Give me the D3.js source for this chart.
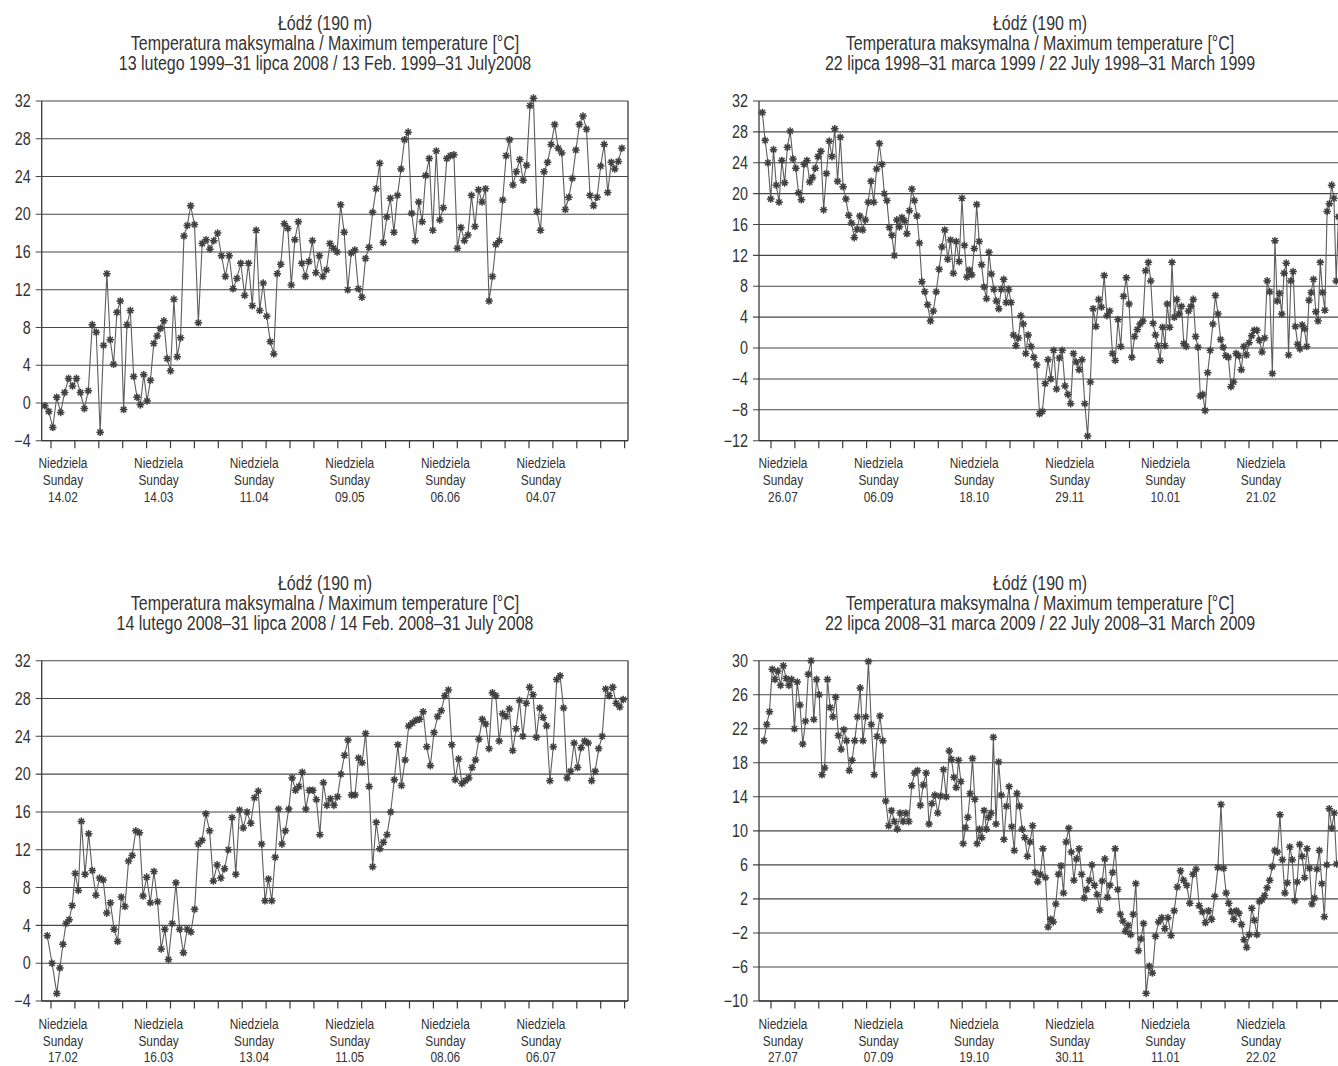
<!DOCTYPE html>
<html><head><meta charset="utf-8">
<script src="https://cdn.jsdelivr.net/npm/d3@7"></script>
<style>
body{margin:0;background:#fff;}
svg text{font-family:"Liberation Sans",Arial,Helvetica,sans-serif;fill:#333;}
</style>
</head><body>
<svg id="chart" width="1338" height="1066"></svg>
<script>
// ---------------- DATA ----------------
const titleStation = "Łódź (190 m)";
const titleVariable = "Temperatura maksymalna / Maximum temperature [°C]";
const p1Period = "13 lutego 1999–31 lipca 2008 / 13 Feb. 1999–31 July2008";
const p2Period = "22 lipca 1998–31 marca 1999 / 22 July 1998–31 March 1999";
const p3Period = "14 lutego 2008–31 lipca 2008 / 14 Feb. 2008–31 July 2008";
const p4Period = "22 lipca 2008–31 marca 2009 / 22 July 2008–31 March 2009";

const dayLabelPL = "Niedziela";
const dayLabelEN = "Sunday";

const p1Dates = ["14.02","14.03","11.04","09.05","06.06","04.07"];
const p2Dates = ["26.07","06.09","18.10","29.11","10.01","21.02"];
const p3Dates = ["17.02","16.03","13.04","11.05","08.06","06.07"];
const p4Dates = ["27.07","07.09","19.10","30.11","11.01","22.02"];

const p1YTicks = [-4,0,4,8,12,16,20,24,28,32];
const p2YTicks = [-12,-8,-4,0,4,8,12,16,20,24,28,32];
const p3YTicks = [-4,0,4,8,12,16,20,24,28,32];
const p4YTicks = [-10,-6,-2,2,6,10,14,18,22,26,30];

// [observation index, day counted from the first labelled Sunday] for some readable observations
const p1Anchors = [[0,-1.8],[14,14.4],[41,40.9],[58,60.1],[79,81.7],[101,104.6],[124,128.3],[137,141.3],[162,167.2]];
const p2Anchors = [[0,-3.8],[42,47.6],[59,66.3],[73,83.9],[100,113.0],[121,139.1],[143,165.8],[167,190.7],[194,221.4],[222,249.3]];
const p3Anchors = [[0,-1.1],[2,1.7],[10,8.9],[34,34.4],[58,60.7],[71,73.6],[91,94.2],[112,116.4],[145,149.1],[163,167.6]];
const p4Anchors = [[0,-3.1],[17,17.6],[38,42.8],[66,78.3],[85,97.7],[99,113.8],[144,164.8],[168,197.7],[191,223.6],[214,248.5]];

const p1Values = [
-0.3,-0.9,-2.6,0.6,-1.0,1.1,2.6,1.8,2.6,1.1,
-0.6,1.3,8.3,7.5,-3.1,6.1,13.7,6.7,4.1,9.6,
10.8,-0.7,8.3,9.8,2.8,0.6,-0.2,3.0,0.2,2.4,
6.3,7.1,7.9,8.7,4.7,3.4,11.0,4.9,6.9,17.7,
18.8,20.9,18.9,8.5,16.9,17.3,16.3,17.2,18.0,15.6,
13.4,15.6,12.1,13.2,14.8,11.4,14.8,10.3,18.3,9.8,
12.7,9.2,6.5,5.2,13.7,14.7,19.0,18.5,12.5,17.3,
19.2,14.8,13.4,15.0,17.2,13.8,15.6,13.4,14.1,16.9,
16.4,16.0,21.0,18.1,12.0,15.9,16.2,12.1,11.2,15.3,
16.5,20.2,22.7,25.4,17.0,19.7,21.7,18.1,22.0,24.8,
27.9,28.7,20.1,17.2,21.3,19.2,24.1,25.9,18.3,26.7,
19.4,20.7,25.9,26.2,26.3,16.4,18.6,17.2,17.8,22.0,
18.7,22.6,21.3,22.7,10.8,13.4,16.8,17.2,21.5,26.2,
27.9,23.1,24.5,25.8,23.6,25.2,31.5,32.3,20.3,18.3,
24.5,25.5,27.4,29.5,27.0,26.5,20.5,21.8,23.8,26.8,
29.5,30.4,29.0,22.0,20.9,21.8,25.1,27.4,22.3,25.5,
24.8,25.6,27.0];

const p2Values = [
30.5,26.9,24.0,19.3,25.7,21.1,18.9,24.3,21.4,26.0,
28.1,24.5,23.3,20.1,19.2,23.8,24.3,21.5,22.1,23.3,
24.8,25.5,17.9,22.6,26.8,24.8,28.4,21.6,27.3,20.9,
19.3,17.2,16.2,14.3,15.4,17.1,15.3,16.6,18.9,21.6,
18.9,23.2,26.5,23.8,20.0,19.1,15.6,14.6,12.0,16.6,
15.7,16.9,16.5,14.8,17.8,20.6,19.1,17.1,13.6,8.6,
7.3,5.6,3.5,4.8,7.3,10.2,13.1,15.3,11.5,14.0,
9.7,13.8,11.2,19.4,13.3,9.2,10.1,9.5,12.9,18.6,
13.8,10.8,7.9,6.4,12.4,9.6,7.6,6.1,5.1,7.6,
8.9,5.9,7.6,5.9,1.7,0.3,1.3,4.2,3.1,-0.7,
1.7,0.2,-1.2,-2.2,-8.5,-8.2,-4.6,-1.5,-4.0,-0.3,
-5.3,-1.3,-0.3,-4.9,-6.0,-7.2,-0.7,-1.8,-2.8,-1.5,
-7.2,-11.4,-4.4,5.1,2.8,6.3,5.3,9.4,4.2,4.8,
-0.7,-1.6,3.7,0.2,6.7,9.1,5.7,-1.2,1.5,2.4,
3.1,3.5,10.0,11.1,8.7,3.2,1.7,0.3,-1.6,2.7,
0.3,5.7,2.7,11.1,4.0,6.3,4.4,5.4,0.6,0.2,
4.8,5.4,6.3,1.5,0.1,-6.2,-6.0,-8.1,-3.2,-0.3,
3.1,6.8,4.4,1.1,0.1,-1.0,-1.2,-5.0,-4.4,-0.7,
-1.0,-2.8,0.2,-0.9,0.7,1.6,2.3,2.3,1.0,-0.5,
1.3,8.7,7.3,-3.3,13.9,6.1,7.1,4.4,9.7,11.0,
-0.9,8.7,9.9,2.8,0.5,-0.1,3.0,2.5,0.2,6.2,
7.2,8.9,4.7,3.5,11.1,7.2,4.9,17.7,18.7,21.1,
19.4,8.7,17.0];

const p3Values = [
2.9,0.0,-3.2,-0.5,2.0,4.2,4.6,6.1,9.5,7.7,
15.0,9.4,13.7,9.8,7.2,9.0,8.8,5.3,6.4,3.6,
2.3,7.0,6.0,10.8,11.4,14.0,13.8,7.1,9.1,6.4,
9.7,6.5,1.5,3.6,0.4,4.2,8.5,3.6,1.1,3.6,
3.3,5.7,12.6,13.0,15.8,14.0,8.7,10.4,9.0,10.0,
12.0,15.4,9.4,16.2,14.3,16.0,14.8,17.5,18.2,12.6,
6.6,8.9,6.6,11.2,16.3,12.6,14.0,16.3,19.6,18.3,
18.7,20.2,16.3,18.3,18.3,17.3,13.6,19.1,16.7,17.4,
16.7,17.6,20.0,22.0,23.6,17.8,17.8,21.7,21.2,24.3,
18.7,10.2,14.9,12.1,12.8,13.6,16.0,19.4,23.1,18.8,
21.5,25.1,25.4,25.7,25.8,26.6,22.9,20.9,24.4,26.1,
26.7,28.3,28.9,23.1,19.4,21.6,19.0,19.3,19.6,20.7,
21.5,23.7,25.8,25.3,22.7,28.6,28.3,23.5,26.4,26.1,
26.9,22.5,24.8,27.8,24.0,27.5,29.2,28.4,23.9,27.0,
26.0,25.1,19.3,22.9,30.0,30.4,27.0,19.6,20.3,23.3,
20.7,22.8,23.5,23.3,19.3,20.3,22.7,24.0,29.0,28.3,
29.2,27.5,27.1,27.9];

const p4Values = [
20.6,22.5,24.0,29.0,27.8,28.8,27.1,29.4,27.9,27.1,
27.8,22.0,27.5,24.8,20.2,22.9,28.4,30.0,23.1,27.8,
26.0,16.6,17.4,27.8,24.5,23.4,25.7,21.2,19.6,21.9,
20.6,17.1,18.3,20.6,23.4,26.8,20.6,23.4,29.9,22.5,
16.6,21.1,23.5,20.6,13.5,10.6,12.4,11.1,10.2,12.1,
11.1,12.1,11.1,15.3,16.8,17.1,13.0,15.4,16.8,10.8,
13.2,14.2,12.1,14.1,17.2,14.0,19.4,18.4,16.3,15.1,
18.3,15.8,8.5,10.4,11.6,14.4,18.5,13.7,8.5,10.2,
9.2,12.4,10.2,11.6,12.1,21.0,10.8,18.1,14.2,9.0,
12.9,15.2,10.5,7.7,14.4,12.9,10.2,9.2,7.0,8.7,
10.6,5.1,4.0,4.9,7.9,4.5,-1.3,-0.4,-0.7,1.4,
4.9,5.9,2.7,8.7,10.3,7.5,4.2,6.7,7.9,4.9,
2.1,3.1,4.2,6.0,3.6,2.5,0.7,4.1,6.7,2.2,
3.6,5.1,7.9,3.1,0.2,-0.6,-1.8,-1.1,-2.2,0.2,
3.8,-4.1,-2.7,-0.9,-9.1,-5.9,-6.7,-2.4,-0.7,-0.2,
-1.5,-0.2,-2.3,0.6,3.4,5.3,4.2,3.6,1.5,4.9,
5.5,1.2,0.5,-0.8,0.6,-0.4,2.3,5.7,13.1,5.6,
2.7,1.5,0.5,-0.4,0.6,0.3,-1.0,-2.8,-3.7,-2.2,
0.9,-0.5,-2.2,1.7,1.9,2.4,3.3,4.2,5.8,7.7,
7.5,11.9,6.6,2.7,3.9,8.1,6.6,1.8,4.0,8.4,
7.0,4.5,7.9,5.6,1.4,2.1,5.5,7.7,3.8,-0.1,
6.0,12.6,10.3,12.1,6.1];

// ---------------- LAYOUT ----------------
const panels = [
  {period:p1Period, dates:p1Dates, yTicks:p1YTicks, anchors:p1Anchors, values:p1Values, daysPerTick:7,
   left:41.7, right:628, top:101, bottom:440.7, tick0:51, titleX:325, titleY:30},
  {period:p2Period, dates:p2Dates, yTicks:p2YTicks, anchors:p2Anchors, values:p2Values, daysPerTick:10.5,
   left:759, right:1350, top:101, bottom:440.7, tick0:771, titleX:1040, titleY:30},
  {period:p3Period, dates:p3Dates, yTicks:p3YTicks, anchors:p3Anchors, values:p3Values, daysPerTick:7,
   left:41.7, right:628, top:660.7, bottom:1001, tick0:51, titleX:325, titleY:589.7},
  {period:p4Period, dates:p4Dates, yTicks:p4YTicks, anchors:p4Anchors, values:p4Values, daysPerTick:10.5,
   left:759, right:1350, top:660.7, bottom:1001, tick0:771, titleX:1040, titleY:589.7}
];
const tickPx = 23.9;      // pixel distance between x ticks
const narrow = 0.82;      // condensed type

const svg = d3.select("#chart");

function addText(g, x, y, str, size, anchor){
  g.append("text")
    .attr("transform", `translate(${x},${y}) scale(${narrow},1)`)
    .attr("text-anchor", anchor)
    .style("font-size", size + "px")
    .text(str);
}

const ar = 3.8, ad = ar * 0.7071;
const asterisk = `M${-ar},0H${ar}M0,${-ar}V${ar}M${-ad},${-ad}L${ad},${ad}M${-ad},${ad}L${ad},${-ad}`;

panels.forEach(p => {
  const g = svg.append("g");
  const pxPerDay = tickPx / p.daysPerTick;
  const x = d3.scaleLinear()
    .domain([(p.left - p.tick0) / pxPerDay, (p.right - p.tick0) / pxPerDay])
    .range([p.left, p.right]);
  const yMin = d3.min(p.yTicks), yMax = d3.max(p.yTicks);
  const y = d3.scaleLinear().domain([yMin, yMax]).range([p.bottom, p.top]);

  // titles
  addText(g, p.titleX, p.titleY, titleStation, 19.5, "middle");
  addText(g, p.titleX, p.titleY + 20, titleVariable, 19.5, "middle");
  addText(g, p.titleX, p.titleY + 40, p.period, 19.5, "middle");

  // horizontal grid lines
  g.selectAll("line.grid").data(p.yTicks).enter().append("line")
    .attr("x1", p.left - 6).attr("x2", p.right)
    .attr("y1", d => y(d)).attr("y2", d => y(d))
    .attr("stroke", "#474747").attr("stroke-width", 1.1);

  // y labels
  p.yTicks.forEach(t => {
    addText(g, p.left - 11, y(t) + 6.2, (t < 0 ? "\u2212" + Math.abs(t) : String(t)), 17.5, "end");
  });

  // frame
  g.append("line").attr("x1", p.left).attr("x2", p.left).attr("y1", p.top).attr("y2", p.bottom)
    .attr("stroke", "#3a3a3a").attr("stroke-width", 1.3);
  g.append("line").attr("x1", p.right).attr("x2", p.right).attr("y1", p.top).attr("y2", p.bottom)
    .attr("stroke", "#3a3a3a").attr("stroke-width", 1.3);
  g.append("line").attr("x1", p.left).attr("x2", p.right).attr("y1", p.bottom).attr("y2", p.bottom)
    .attr("stroke", "#3a3a3a").attr("stroke-width", 1.3);

  // x ticks
  const tickDays = d3.range(0, 200).map(k => k * p.daysPerTick).filter(d => x(d) <= p.right);
  g.selectAll("line.xt").data(tickDays).enter().append("line")
    .attr("x1", d => x(d)).attr("x2", d => x(d))
    .attr("y1", p.bottom).attr("y2", p.bottom + 7.5)
    .attr("stroke", "#3a3a3a").attr("stroke-width", 1.2);

  // x labels (centred in the interval after each 4th tick)
  p.dates.forEach((dt, i) => {
    const cx = x((i * 4 + 0.5) * p.daysPerTick);
    addText(g, cx, p.bottom + 27.6, dayLabelPL, 14.5, "middle");
    addText(g, cx, p.bottom + 44.6, dayLabelEN, 14.5, "middle");
    addText(g, cx, p.bottom + 61.4, dt, 14.5, "middle");
  });

  // data: observation index -> day (piecewise through the anchors)
  const dayOf = d3.scaleLinear().domain(p.anchors.map(a => a[0])).range(p.anchors.map(a => a[1]));
  const pts = p.values.map((v, i) => [x(dayOf(i)), y(v)]);
  g.append("path").attr("d", d3.line()(pts))
    .attr("fill", "none").attr("stroke", "#5e5e5e").attr("stroke-width", 1.1);
  g.selectAll("path.m").data(pts).enter().append("path")
    .attr("d", asterisk)
    .attr("transform", d => `translate(${d[0]},${d[1]})`)
    .attr("fill", "none").attr("stroke", "#404040").attr("stroke-width", 1.5);
});
</script>
</body></html>
